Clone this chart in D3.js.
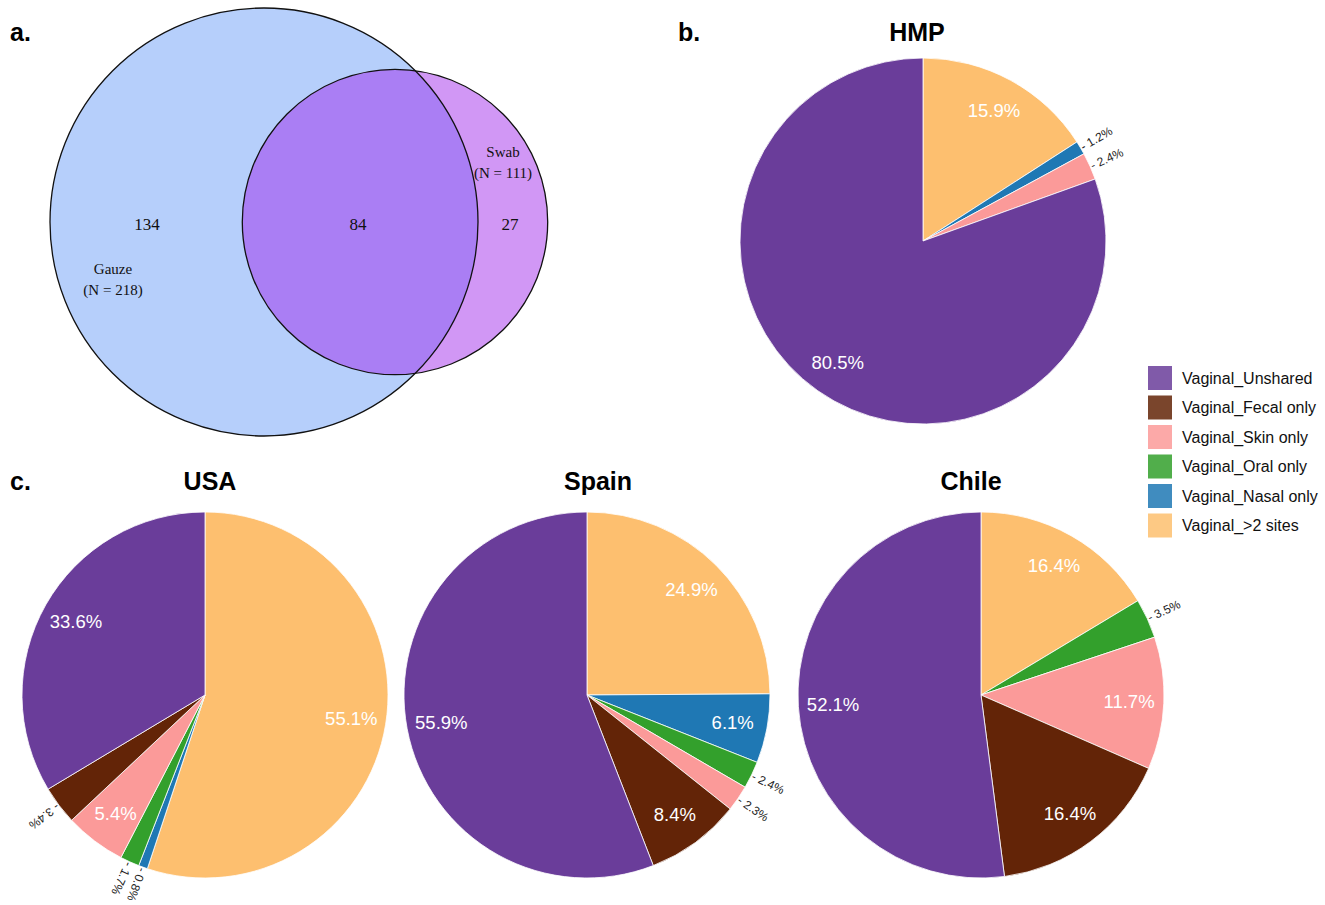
<!DOCTYPE html>
<html>
<head>
<meta charset="utf-8">
<script src="https://cdn.jsdelivr.net/npm/d3@7"></script>
<style>
  body { margin: 0; background: #fff; }
  svg { display: block; font-family: "Liberation Sans", Arial, sans-serif; }
</style>
</head>
<body>
<div id="chart"></div>
<script>
// data
const categories = ["Vaginal_Unshared", "Vaginal_Fecal only", "Vaginal_Skin only",
                    "Vaginal_Oral only", "Vaginal_Nasal only", "Vaginal_>2 sites"];
const colors = ["#6a3d9a", "#632407", "#fb9a99", "#33a02c", "#1f78b4", "#fdbf6f"];

const hmpValues   = [80.5, 0, 2.4, 0, 1.2, 15.9];
const usaValues   = [33.6, 3.4, 5.4, 1.7, 0.8, 55.1];
const spainValues = [55.9, 8.4, 2.3, 2.4, 6.1, 24.9];
const chileValues = [52.1, 16.4, 11.7, 3.5, 0, 16.4];

const vennSets = ["Gauze", "Swab"];
const vennTotals = [218, 111];
const vennCounts = [134, 84, 27]; // gauze only, shared, swab only

const w = 1325, h = 905;

const svg = d3.select("#chart").append("svg")
    .attr("width", w).attr("height", h)
    .attr("viewBox", "0 0 " + w + " " + h);

const color = d3.scaleOrdinal().domain(categories).range(colors);

// panel letters
function panelLabel(txt, x, y) {
    svg.append("text").attr("x", x).attr("y", y)
        .attr("font-size", 25).attr("font-weight", "bold").text(txt);
}
panelLabel("a.", 10, 41);
panelLabel("b.", 678, 41);
panelLabel("c.", 10, 490);

// ---- a. venn
const rScale = d3.scaleSqrt().domain([0, d3.max(vennTotals)]).range([0, 214]);
const venn = svg.append("g").attr("transform", "translate(264,222)");
const rBig = rScale(vennTotals[0]), rSmall = rScale(vennTotals[1]);
const dx = 131;

venn.append("clipPath").attr("id", "clipSmall")
    .append("circle").attr("cx", dx).attr("cy", 0).attr("r", rSmall);

venn.append("circle").attr("cx", 0).attr("cy", 0).attr("r", rBig).attr("fill", "#b6cffb");
venn.append("circle").attr("cx", dx).attr("cy", 0).attr("r", rSmall).attr("fill", "#d197f5");
venn.append("circle").attr("cx", 0).attr("cy", 0).attr("r", rBig)
    .attr("fill", "#aa7ef4").attr("clip-path", "url(#clipSmall)");
venn.append("circle").attr("cx", 0).attr("cy", 0).attr("r", rBig)
    .attr("fill", "none").attr("stroke", "#111").attr("stroke-width", 1.3);
venn.append("circle").attr("cx", dx).attr("cy", 0).attr("r", rSmall)
    .attr("fill", "none").attr("stroke", "#111").attr("stroke-width", 1.3);

const serif = "'Liberation Serif', 'Times New Roman', serif";
const vennText = [
    {t: vennCounts[0], x: -117, y: 8, s: 17},
    {t: vennCounts[1], x: 94, y: 8, s: 17},
    {t: vennCounts[2], x: 246, y: 8, s: 17},
    {t: vennSets[0], x: -151, y: 52, s: 15},
    {t: "(N = " + vennTotals[0] + ")", x: -151, y: 73, s: 15},
    {t: vennSets[1], x: 239, y: -65, s: 15},
    {t: "(N = " + vennTotals[1] + ")", x: 239, y: -44, s: 15}
];
venn.selectAll("text.v").data(vennText).enter().append("text")
    .attr("class", "v")
    .attr("x", d => d.x).attr("y", d => d.y)
    .attr("text-anchor", "middle")
    .attr("font-family", serif).attr("font-size", d => d.s)
    .attr("fill", "#111")
    .text(d => d.t);

// ---- pies
const R = 183;
const pie = d3.pie().sort(null).value(d => d.v);
const arc = d3.arc().innerRadius(0).outerRadius(R);
const labelArc = d3.arc().innerRadius(R * 0.81).outerRadius(R * 0.81);

function drawPie(name, values, cx, cy, titleX, titleY) {
    const data = categories.map((c, i) => ({c: c, v: values[i]})).reverse();
    const arcs = pie(data);
    const g = svg.append("g").attr("transform", "translate(" + cx + "," + cy + ")");

    g.selectAll("path").data(arcs.filter(d => d.data.v > 0)).enter()
        .append("path")
        .attr("d", arc)
        .attr("fill", d => color(d.data.c))
        .attr("stroke", "#fff").attr("stroke-width", 0.8);

    // big slices: white label inside
    g.selectAll("text.in").data(arcs.filter(d => d.data.v >= 5)).enter()
        .append("text").attr("class", "in")
        .attr("transform", d => "translate(" + labelArc.centroid(d) + ")")
        .attr("text-anchor", "middle").attr("dy", "0.35em")
        .attr("font-size", 18.5).attr("fill", "#fff")
        .text(d => d.data.v.toFixed(1) + "%");

    // small slices: rotated label outside
    g.selectAll("text.out").data(arcs.filter(d => d.data.v > 0 && d.data.v < 5)).enter()
        .append("text").attr("class", "out")
        .attr("transform", function(d) {
            const a = (d.startAngle + d.endAngle) / 2;
            const deg = a * 180 / Math.PI - 90;
            return "rotate(" + deg + ") translate(" + (R + 1) + ",0)";
        })
        .attr("dy", "0.35em")
        .attr("font-size", 12).attr("fill", "#222")
        .text(d => "- " + d.data.v.toFixed(1) + "%");

    svg.append("text").attr("x", titleX).attr("y", titleY)
        .attr("text-anchor", "middle")
        .attr("font-size", 25).attr("font-weight", "bold")
        .text(name);
}

drawPie("HMP", hmpValues, 923, 241, 917, 41);
drawPie("USA", usaValues, 205, 695, 210, 490);
drawPie("Spain", spainValues, 587, 695, 598, 490);
drawPie("Chile", chileValues, 981, 695, 971, 490);

// ---- legend
const legend = svg.append("g").attr("transform", "translate(1148,366)");
const rows = legend.selectAll("g").data(categories).enter().append("g")
    .attr("transform", (d, i) => "translate(0," + (i * 29.5) + ")");
rows.append("rect").attr("width", 24).attr("height", 24)
    .attr("fill", d => color(d)).attr("opacity", 0.85);
rows.append("text").attr("x", 34).attr("y", 12).attr("dy", "0.35em")
    .attr("font-size", 16).attr("fill", "#111")
    .text(d => d);
</script>
</body>
</html>
